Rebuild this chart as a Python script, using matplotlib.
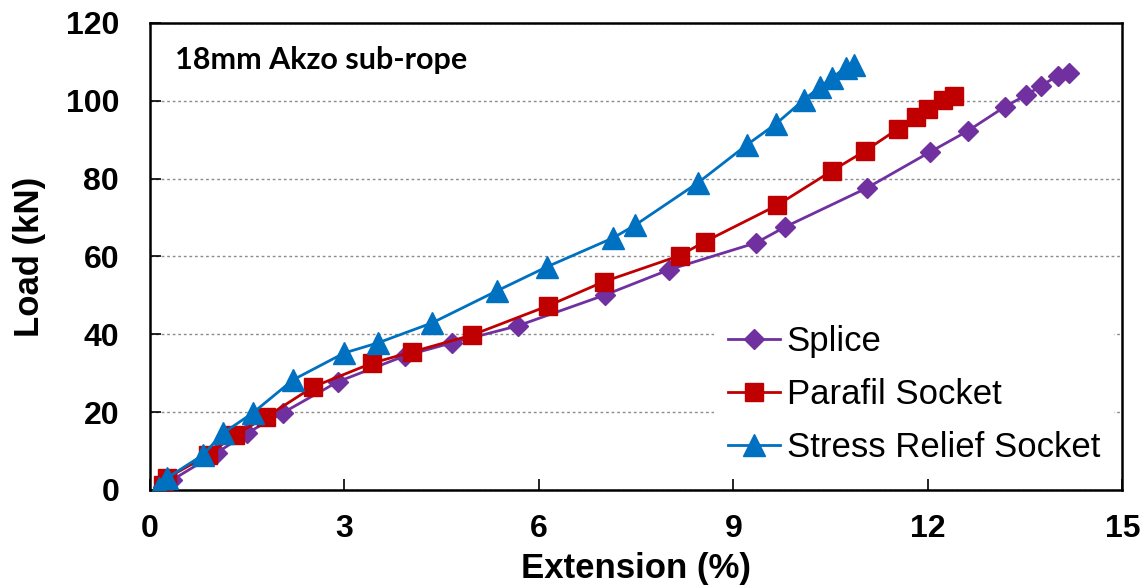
import matplotlib
matplotlib.use("Agg")
import matplotlib.pyplot as plt

# Extension (%) and load (kN)
splice_ext = [0.2, 0.35, 1.03, 1.5, 2.05, 2.9, 3.94, 4.66, 5.68, 7.02, 8.01,
              9.35, 9.8, 11.06, 12.04, 12.62, 13.19, 13.52, 13.75, 14.0, 14.18]
splice_load = [0.8, 2.6, 9.5, 14.6, 19.8, 27.8, 34.5, 37.8, 42.2, 50.1, 56.6,
               63.5, 67.6, 77.6, 86.9, 92.3, 98.5, 101.5, 103.9, 106.4, 107.2]

parafil_ext = [0.2, 0.26, 0.9, 1.31, 1.8, 2.52, 3.43, 4.05, 4.97, 6.14, 7.0,
               8.17, 8.56, 9.67, 10.52, 11.03, 11.54, 11.82, 12.0, 12.24, 12.4]
parafil_load = [1.3, 3.0, 9.0, 14.1, 18.8, 26.5, 32.6, 35.5, 39.8, 47.3, 53.5,
                60.2, 63.8, 73.1, 82.0, 87.1, 92.8, 95.9, 97.9, 100.2, 101.1]

relief_ext = [0.15, 0.26, 0.82, 1.13, 1.59, 2.21, 3.0, 3.52, 4.35, 5.36, 6.12,
              7.15, 7.49, 8.46, 9.21, 9.66, 10.09, 10.34, 10.52, 10.73, 10.86]
relief_load = [0.5, 3.0, 9.0, 14.6, 19.8, 28.3, 35.2, 37.8, 42.9, 51.2, 57.3,
               64.8, 68.1, 79.0, 88.7, 94.1, 100.3, 103.6, 105.9, 108.5, 109.3]

x_ticks = [0, 3, 6, 9, 12, 15]
y_ticks = [0, 20, 40, 60, 80, 100, 120]

fig = plt.figure(figsize=(11.43, 5.88), dpi=100)
ax = fig.add_axes([0.131, 0.1667, 0.851, 0.7943])

ax.plot(splice_ext, splice_load, color='#7030A0', lw=2, marker='D', ms=10,
        label='Splice', zorder=3)
ax.plot(parafil_ext, parafil_load, color='#C00000', lw=2, marker='s', ms=13.5,
        label='Parafil Socket', zorder=4)
ax.plot(relief_ext, relief_load, color='#0070C0', lw=2, marker='^', ms=16,
        label='Stress Relief Socket', zorder=5)

ax.set_xlim(0, 15)
ax.set_ylim(0, 120)
ax.set_xticks(x_ticks)
ax.set_yticks(y_ticks)
ax.yaxis.grid(True, linestyle=(0, (2, 2)), color='#8c8c8c', lw=1)
ax.set_axisbelow(True)

for sp in ax.spines.values():
    sp.set_linewidth(1.8)
    sp.set_color('black')

ax.tick_params(axis='both', direction='in', length=8, width=1.2)
ax.tick_params(axis='x', pad=17)
ax.tick_params(axis='y', pad=22)
for lab in ax.get_xticklabels() + ax.get_yticklabels():
    lab.set_fontfamily('Liberation Sans')
    lab.set_fontweight('bold')
    lab.set_fontsize(23)

ax.set_xlabel('Extension (%)', fontsize=25, fontweight='bold',
              family='Liberation Sans', labelpad=6)
ax.set_ylabel('Load (kN)', fontsize=25, fontweight='bold',
              family='Liberation Sans', labelpad=14)

ax.text(0.026, 0.921, '18mm Akzo sub-rope', transform=ax.transAxes,
        fontsize=22, fontweight='bold', family='Lato', va='center', ha='left')

leg = ax.legend(loc='center left', bbox_to_anchor=(0.58, 0.2045),
                prop={'family': 'Liberation Sans', 'size': 25},
                frameon=True, fancybox=False, borderaxespad=0, borderpad=0.4,
                handlelength=1.5, handletextpad=0.2, labelspacing=0.57)
leg.get_frame().set_facecolor('white')
leg.get_frame().set_edgecolor('none')
leg.get_frame().set_alpha(1)

fig.savefig('out.png', dpi=100)
